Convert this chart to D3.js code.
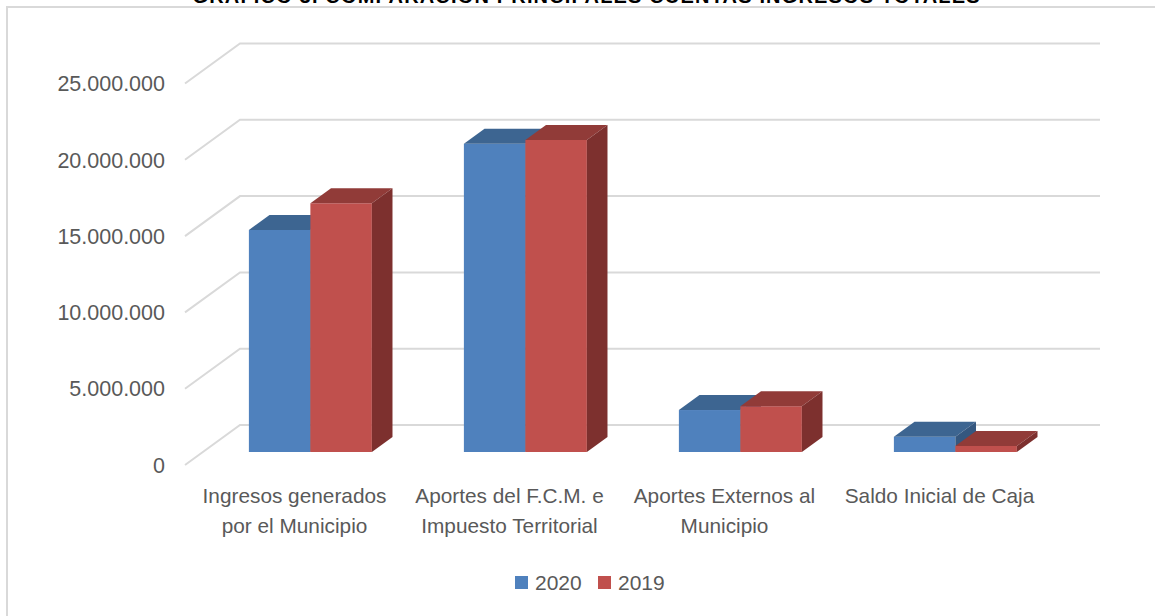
<!DOCTYPE html>
<html>
<head>
  <meta charset="utf-8">
  <title>Comparación principales cuentas ingresos totales</title>
  <script src="https://d3js.org/d3.v7.min.js"></script>
  <style>
    body { margin: 0; background: #fff; }
    svg { display: block; }
  </style>
</head>
<body>
  <svg id="chart" width="1155" height="616"></svg>
  <script>
    // data
    const categories = [
      ["Ingresos generados", "por el Municipio"],
      ["Aportes del F.C.M. e", "Impuesto Territorial"],
      ["Aportes Externos al", "Municipio"],
      ["Saldo Inicial de Caja"]
    ];
    const series = ["2020", "2019"];
    const values2020 = [14550000, 20200000, 2750000, 1000000];
    const values2019 = [16300000, 20450000, 3000000, 400000];
    const yTicks = [0, 5000000, 10000000, 15000000, 20000000, 25000000];
    const title = "GRÁFICO 3. COMPARACIÓN PRINCIPALES CUENTAS INGRESOS TOTALES";

    const colors = {
      "2020": { front: "#4f81bd", top: "#3d6591", side: "#35577f" },
      "2019": { front: "#c0504d", top: "#913b38", side: "#7d302e" }
    };

    const svg = d3.select("#chart");
    const font = "'Liberation Sans', Arial, sans-serif";

    // frame
    svg.append("rect")
      .attr("x", 7).attr("y", 7)
      .attr("width", 1170).attr("height", 630)
      .attr("fill", "#fff")
      .attr("stroke", "#d9d9d9").attr("stroke-width", 2);

    // title, cut off at the top edge as in the source
    svg.append("text")
      .attr("x", 586).attr("y", 3)
      .attr("text-anchor", "middle")
      .attr("font-family", font)
      .attr("font-weight", "bold")
      .attr("font-size", 20)
      .attr("textLength", 787)
      .attr("fill", "#000")
      .text(title);

    // 3d geometry: front plane + depth offset
    const depth = { dx: 55, dy: -40 };
    const barFront = 0.325, barBack = 0.7;

    const keys = categories.map(c => c.join(" "));
    const x = d3.scaleBand()
      .domain(keys)
      .range([185, 1045])
      .paddingInner(0.428)
      .paddingOuter(0.214);
    const xs = d3.scaleBand().domain(series).range([0, x.bandwidth()]);

    const y = d3.scaleLinear()
      .domain([0, 25000000])
      .range([465, 465 - 5 * 76.3]);

    // gridlines: diagonal on side wall, then horizontal on back wall
    const grid = svg.append("g")
      .attr("fill", "none")
      .attr("stroke", "#d9d9d9")
      .attr("stroke-width", 2);
    grid.selectAll("path")
      .data(yTicks)
      .join("path")
      .attr("d", t => {
        const y0 = y(t);
        return `M${x.range()[0]},${y0}L${x.range()[0] + depth.dx},${y0 + depth.dy}L${x.range()[1] + depth.dx},${y0 + depth.dy}`;
      });

    // tick labels
    svg.append("g")
      .attr("font-family", font)
      .attr("font-size", 21.5)
      .attr("fill", "#595959")
      .attr("text-anchor", "end")
      .selectAll("text")
      .data(yTicks)
      .join("text")
      .attr("x", 165)
      .attr("y", t => y(t))
      .attr("dy", "0.36em")
      .text(t => d3.format(",")(t).replace(/,/g, "."));

    // bars
    const bars = [];
    keys.forEach((k, i) => {
      bars.push({ cat: k, s: "2020", v: values2020[i] });
      bars.push({ cat: k, s: "2019", v: values2019[i] });
    });

    const bw = xs.bandwidth();
    const ox1 = barFront * depth.dx, oy1 = barFront * depth.dy;
    const ddx = (barBack - barFront) * depth.dx, ddy = (barBack - barFront) * depth.dy;

    const g = svg.append("g");
    bars.forEach(b => {
      const x0 = x(b.cat) + xs(b.s) + ox1;
      const x1 = x0 + bw;
      const yb = y(0) + oy1;
      const yt = y(b.v) + oy1;
      const c = colors[b.s];
      const bar = g.append("g");
      bar.append("rect")
        .attr("x", x0).attr("y", yt)
        .attr("width", bw).attr("height", yb - yt)
        .attr("fill", c.front);
      bar.append("path")
        .attr("d", `M${x0},${yt}L${x0 + ddx},${yt + ddy}L${x1 + ddx},${yt + ddy}L${x1},${yt}Z`)
        .attr("fill", c.top);
      bar.append("path")
        .attr("d", `M${x1},${yt}L${x1 + ddx},${yt + ddy}L${x1 + ddx},${yb + ddy}L${x1},${yb}Z`)
        .attr("fill", c.side);
    });

    // category labels
    const cl = svg.append("g")
      .attr("font-family", font)
      .attr("font-size", 20.8)
      .attr("fill", "#595959")
      .attr("text-anchor", "middle");
    categories.forEach((lines, i) => {
      const cx = x(keys[i]) + x.bandwidth() / 2 + 2;
      lines.forEach((ln, j) => {
        cl.append("text")
          .attr("x", cx)
          .attr("y", 503 + j * 30)
          .text(ln);
      });
    });

    // legend
    const legend = svg.append("g")
      .attr("font-family", font)
      .attr("font-size", 21)
      .attr("fill", "#595959");
    const legendX = [515, 598];
    series.forEach((s, i) => {
      legend.append("rect")
        .attr("x", legendX[i]).attr("y", 576)
        .attr("width", 13).attr("height", 13)
        .attr("fill", colors[s].front);
      legend.append("text")
        .attr("x", legendX[i] + 20).attr("y", 582)
        .attr("dy", "0.36em")
        .text(s);
    });
  </script>
</body>
</html>
